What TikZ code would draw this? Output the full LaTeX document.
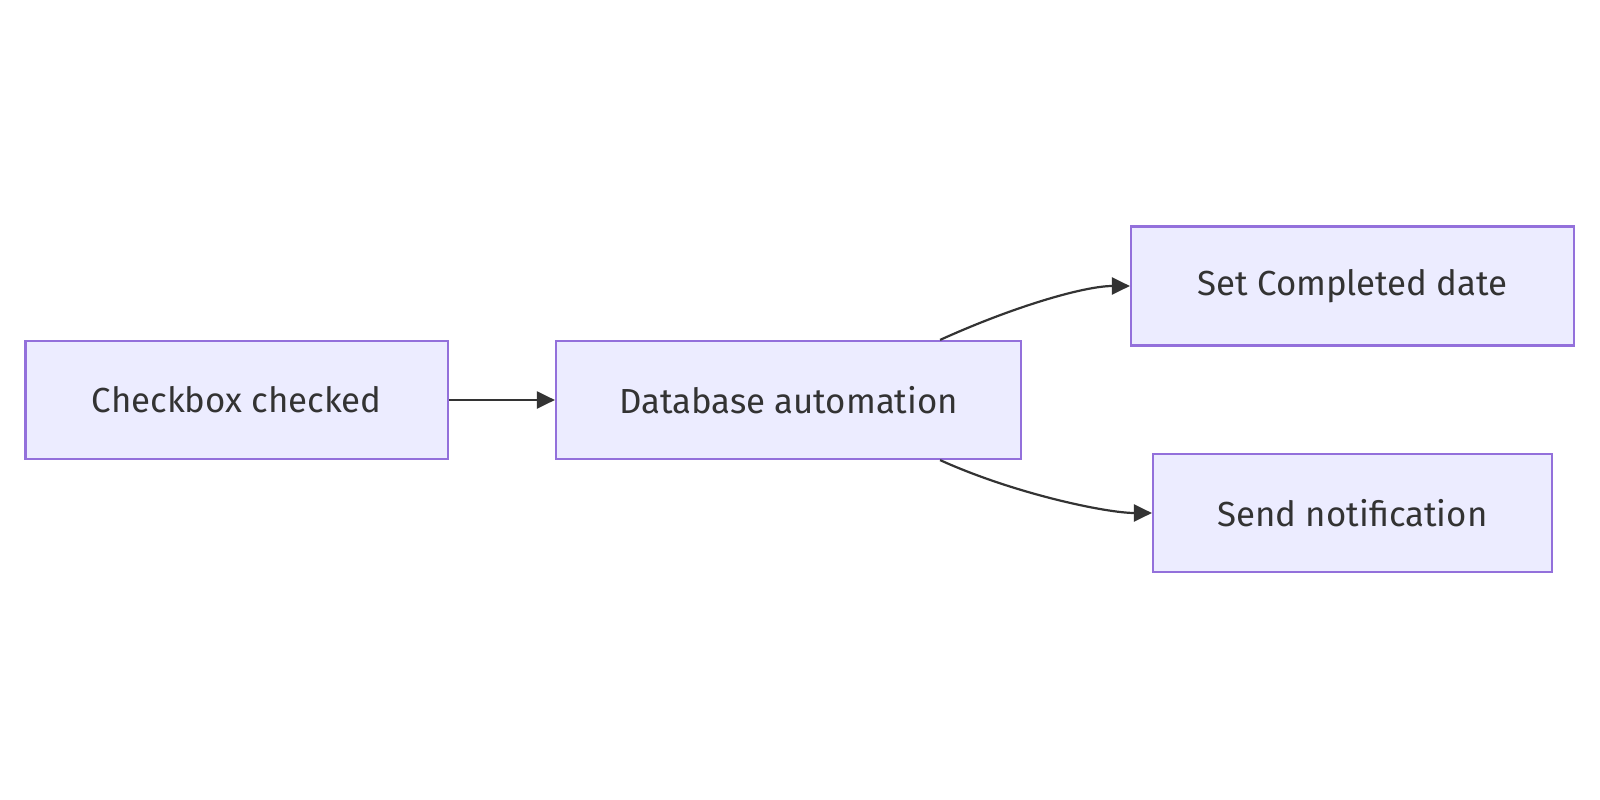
\documentclass[tikz,border=0pt]{standalone}
\usepackage{fontspec}
\setmainfont{Fira Sans}
\usetikzlibrary{arrows.meta}
\definecolor{nodefill}{HTML}{ECECFF}
\definecolor{nodeline}{HTML}{9370DB}
\definecolor{ink}{HTML}{333333}
\begin{document}
\begin{tikzpicture}[x=1pt,y=-1pt,
  box/.style={draw=nodeline,fill=nodefill,line width=2.2pt,inner sep=0pt,
    minimum height=118pt,text=ink,font=\fontsize{34.8}{40}\selectfont},
  link/.style={draw=ink,line width=2.2pt,-{Triangle[length=18pt,width=17pt]}}]
\useasboundingbox (0,0) rectangle (1600,800);
\node[box,minimum width=422.5pt] (b1) at (236.75,400) {Checkbox checked};
\node[box,minimum width=465pt] (b2) at (788.5,400) {Database automation};
\node[box,minimum width=443pt,minimum height=119pt] (b3) at (1352.5,286) {Set Completed date};
\node[box,minimum width=399pt] (b4) at (1352.5,513) {Send notification};
\draw[link] (b1.east) -- (b2.west);
\draw[link] ([xshift=-82pt]b2.north east) .. controls +(75,-34) and +(-45,0) .. (b3.west);
\draw[link] ([xshift=-82pt]b2.south east) .. controls +(75,34) and +(-45,0) .. (b4.west);
\end{tikzpicture}
\end{document}
